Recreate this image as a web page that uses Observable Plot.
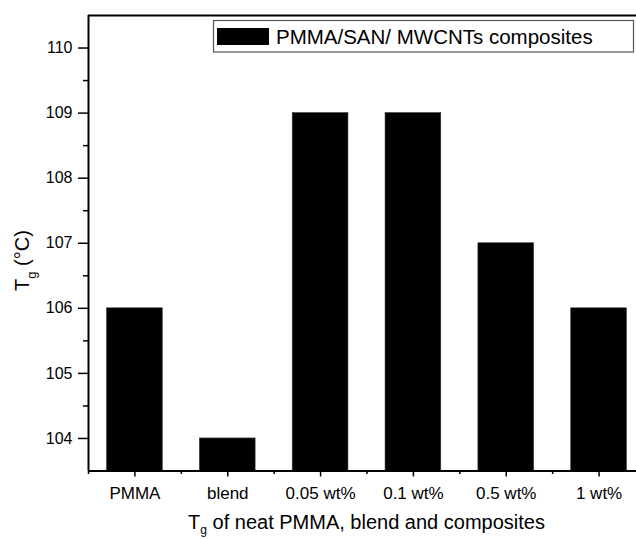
<!DOCTYPE html>
<html>
<head>
<meta charset="utf-8">
<script src="https://cdn.jsdelivr.net/npm/d3@7"></script>
<script src="https://cdn.jsdelivr.net/npm/@observablehq/plot@0.6"></script>
<style>
  html, body { margin: 0; padding: 0; background: #fff; overflow: hidden; }
  #chart { width: 636px; height: 539px; overflow: hidden; position: relative; }
  #chart svg { display: block; max-width: none !important; width: 660px !important; height: 539px !important; }
</style>
</head>
<body>
<div id="chart"></div>
<script>
// Glass transition temperature per sample
const categories = ["PMMA", "blend", "0.05 wt%", "0.1 wt%", "0.5 wt%", "1 wt%"];
const tg = [106, 104, 109, 109, 107, 106];

// Axis ticks
const yTicks = [104, 105, 106, 107, 108, 109, 110];
const yMinorTicks = [104.5, 105.5, 106.5, 107.5, 108.5, 109.5];
const xMinorTicks = [-0.5, 0.5, 1.5, 2.5, 3.5, 4.5, 5.5];
const xDomain = [-0.5, 5.5];
const yDomain = [103.5, 110.5];

const legendLabel = "PMMA/SAN/ MWCNTs composites";

const data = categories.map((c, i) => ({i, c, tg: tg[i]}));

const font = "'Liberation Sans', Arial, Helvetica, sans-serif";

const W = 660, H = 539;
const plot = Plot.plot({
  width: W,
  height: H,
  marginLeft: 88,
  marginRight: 15,
  marginTop: 15,
  marginBottom: 68.5,
  x: {domain: xDomain},
  y: {domain: yDomain},
  style: {fontFamily: font, fontSize: "16px", color: "black", background: "white"},
  marks: [
    Plot.rect(data, {x1: d => d.i - 0.3, x2: d => d.i + 0.3, y1: yDomain[0], y2: "tg", fill: "black", stroke: "#333", strokeWidth: 0.6}),
    Plot.axisY({ticks: yTicks, tickSize: 10, tickPadding: 6, strokeWidth: 1.5, label: null, tickFormat: d => String(d), fontSize: 16}),
    Plot.axisY({ticks: yMinorTicks, tickSize: 5, strokeWidth: 1.5, text: null, label: null}),
    Plot.axisX({ticks: d3.range(categories.length), tickSize: 6, tickPadding: 10, strokeWidth: 1.5, label: null, tickFormat: i => categories[i], fontSize: 17}),
    Plot.axisX({ticks: xMinorTicks, tickSize: 3.5, strokeWidth: 1.5, text: null, label: null}),
    // axis lines: left, bottom and top (the right side runs past the page edge)
    Plot.ruleX([xDomain[0]], {stroke: "black", strokeWidth: 2}),
    Plot.ruleY(yDomain, {stroke: "black", strokeWidth: 2})
  ]
});

const svg = d3.select(plot);

// Legend box in the upper part of the frame
const lg = svg.append("g").attr("font-family", font).attr("text-anchor", "start");
lg.append("rect").attr("x", 213.5).attr("y", 20.5).attr("width", 420).attr("height", 31.5)
  .attr("fill", "white").attr("stroke", "#555").attr("stroke-width", 1.2);
lg.append("rect").attr("x", 217).attr("y", 28).attr("width", 52).attr("height", 17).attr("fill", "black");
lg.append("text").attr("x", 276).attr("y", 44.3).attr("font-size", 20.5).attr("fill", "black").text(legendLabel);

// Y axis title: T_g (°C)
const yt = svg.append("text")
  .attr("transform", "translate(29,260.5) rotate(-90)")
  .attr("text-anchor", "middle")
  .attr("font-family", font).attr("font-size", 20).attr("fill", "black");
yt.append("tspan").text("T");
yt.append("tspan").attr("font-size", 13).attr("dy", 7).text("g");
yt.append("tspan").attr("dy", -7).text(" (°C)");

// X axis title: T_g of neat PMMA, blend and composites
const xt = svg.append("text")
  .attr("x", 366.5).attr("y", 529)
  .attr("text-anchor", "middle")
  .attr("font-family", font).attr("font-size", 20).attr("fill", "black");
xt.append("tspan").text("T");
xt.append("tspan").attr("font-size", 12).attr("dy", 5).text("g");
xt.append("tspan").attr("dy", -5).text(" of neat PMMA, blend and composites");

document.getElementById("chart").append(plot);
</script>
</body>
</html>
